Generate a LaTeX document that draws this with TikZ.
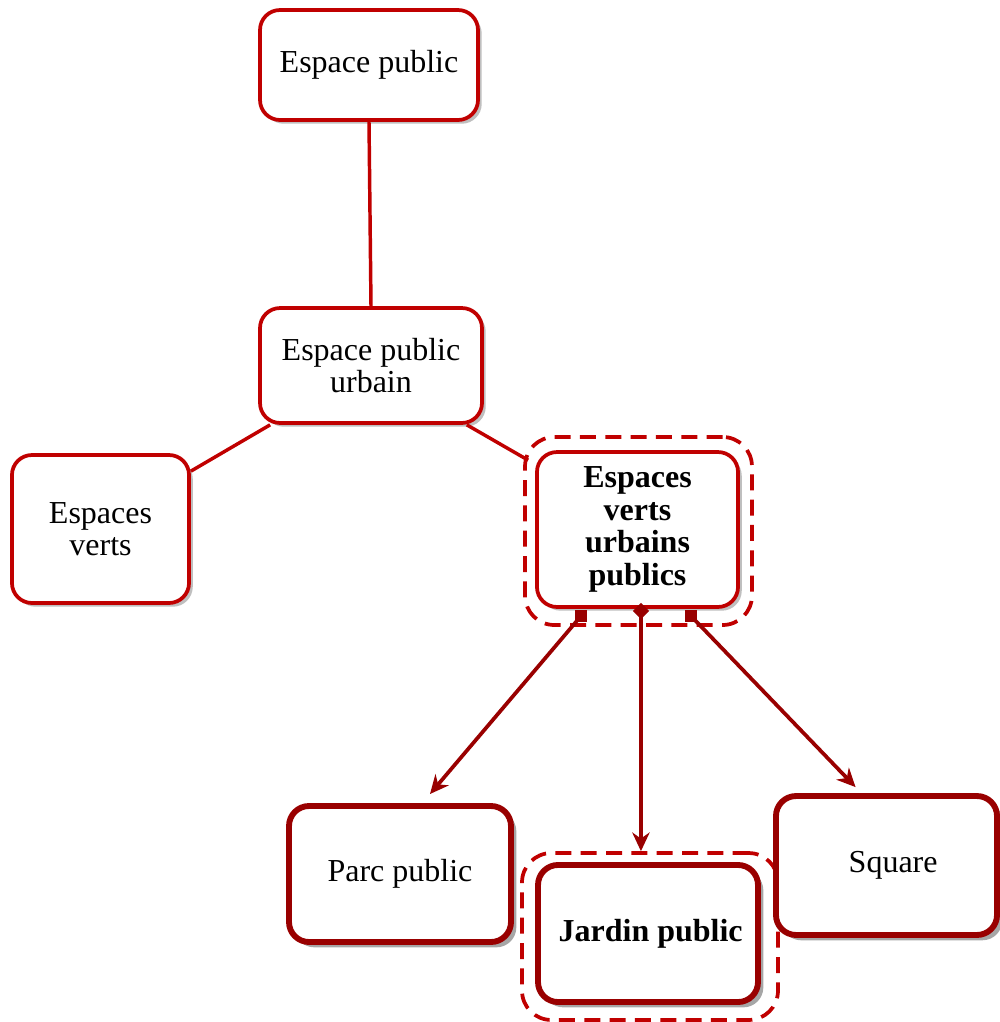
\documentclass[tikz,border=0pt]{standalone}
\usepackage{fontspec}
\setmainfont{Liberation Serif}
\usetikzlibrary{arrows.meta,shadows}
\definecolor{boxred}{RGB}{192,0,0}
\definecolor{darkred}{RGB}{153,0,0}

\begin{document}
\begin{tikzpicture}[x=0.375pt,y=-0.375pt,
    upper/.style={draw=boxred, line width=1.4pt, rounded corners=7.5pt, fill=white,
        align=center, inner sep=0pt, font=\fontsize{12}{12.2}\selectfont,
        drop shadow={shadow xshift=1.4pt, shadow yshift=-1.4pt, fill=black, opacity=0.25}},
    lower/.style={draw=darkred, line width=2.2pt, rounded corners=7.5pt, fill=white,
        align=center, inner sep=0pt, font=\fontsize{12}{12.2}\selectfont,
        drop shadow={shadow xshift=2pt, shadow yshift=-2pt, fill=black, opacity=0.35}},
    frame/.style={draw=boxred, line width=1.4pt, dashed, dash pattern=on 6pt off 3.5pt,
        rounded corners=11pt, inner sep=0pt},
    link/.style={draw=boxred, line width=1.3pt},
    arrow/.style={draw=darkred, line width=1.4pt, -{Stealth[length=7pt,width=6.5pt]}},
    tailsq/.style={fill=darkred, inner sep=0pt, minimum size=4.3pt}]
    \useasboundingbox (0,0) rectangle (1000,1022);

    % Dashed frames round the chosen boxes
    \node[frame, minimum width=85.1pt, minimum height=70.5pt] (evupf) at (638.5,531) {};
    \node[frame, minimum width=96pt, minimum height=62.6pt] (jpf) at (650,936.5) {};

    % Upper boxes
    \node[upper, minimum width=81.75pt, minimum height=41.25pt] (ep) at (369,65) {Espace public};
    \node[upper, minimum width=83.25pt, minimum height=43.1pt] (epu) at (371,365.5) {Espace public\\urbain};
    \node[upper, minimum width=66.4pt, minimum height=55.5pt] (ev) at (100.5,529) {Espaces\\verts};
    \node[upper, minimum width=75.4pt, minimum height=58.1pt] (evup) at (637.5,529.5)
        {\textbf{Espaces}\\\textbf{verts}\\\textbf{urbains}\\\textbf{publics}};

    % Lower boxes
    \node[lower, minimum width=83.25pt, minimum height=51pt] (pp) at (400,874) {Parc public};
    \node[lower, minimum width=82.5pt, minimum height=51.4pt] (jp) at (648,933.5) {\hspace{2pt}\textbf{Jardin public}};
    \node[lower, minimum width=82.9pt, minimum height=52.1pt] (sq) at (886.5,865.5) {\hspace{5pt}Square};

    % Plain links
    \draw[link] (ep.south) -- (epu.north);
    \draw[link] ([xshift=4.5pt]epu.south west) -- ([yshift=-6.75pt]ev.north east);
    \draw[link] ([xshift=-6.4pt]epu.south east) -- ([xshift=-2.6pt,yshift=-3.75pt]evup.north west);

    % Arrows down to the three kinds
    \node[tailsq] (t1) at (581,616) {};
    \node[tailsq, rotate=45] (t2) at (641,611) {};
    \node[tailsq] (t3) at (691,616) {};
    \draw[arrow] (t1.center) -- ([xshift=11.25pt,yshift=3.4pt]pp.north);
    \draw[arrow] (t2.center) -- ([xshift=-3.4pt]jpf.north);
    \draw[arrow] (t3.center) -- ([xshift=-11.6pt,yshift=2.25pt]sq.north);
\end{tikzpicture}
\end{document}
